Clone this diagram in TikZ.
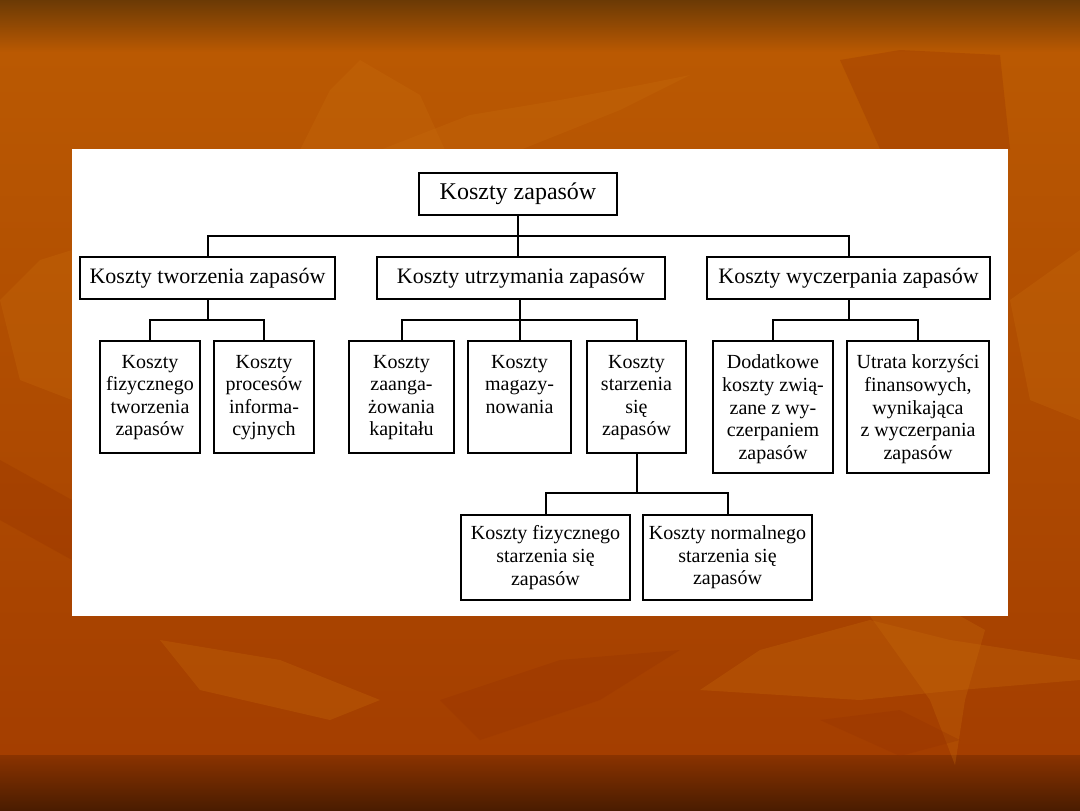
\documentclass[tikz,border=0pt]{standalone}
\usepackage{fontspec}
\setmainfont{Liberation Serif}
\definecolor{bgtop}{RGB}{107,58,5}
\definecolor{bgor}{RGB}{186,89,2}
\definecolor{bglow}{RGB}{164,62,0}
\definecolor{bgb1}{RGB}{138,51,0}
\definecolor{bgb2}{RGB}{74,28,0}
\definecolor{leafL}{RGB}{200,108,12}
\definecolor{leafD}{RGB}{150,50,0}
\tikzset{
  box/.style={draw, line width=1.1pt, fill=white, inner sep=0pt, align=center},
  conn/.style={line width=1pt},
  leafl/.style={fill=leafL, opacity=0.3},
  leafd/.style={fill=leafD, opacity=0.3}
}
\newcommand\tb[3]{\parbox[c][#1][t]{#2}{\centering\fontsize{10}{11.3}\selectfont #3}}
\begin{document}
\begin{tikzpicture}[x=0.5pt,y=-0.5pt]
\useasboundingbox (0,0) rectangle (1080,810);
% background
\shade[top color=bgtop, bottom color=bgor] (0,0) rectangle (1080,52);
\shade[top color=bgor, bottom color=bglow] (0,52) rectangle (1080,756);
\shade[top color=bgb1, bottom color=bgb2] (0,755) rectangle (1080,810);
% leaves
\fill[leafl] (300,150) -- (330,90) -- (360,60) -- (420,95) -- (445,150) -- cycle;
\fill[leafl] (380,150) -- (470,115) -- (560,100) -- (640,85) -- (690,75) -- (620,110) -- (520,150) -- cycle;
\fill[leafd] (840,60) -- (900,50) -- (1000,55) -- (1010,149) -- (880,149) -- cycle;
\fill[leafl] (0,300) -- (40,260) -- (72,250) -- (72,400) -- (20,380) -- cycle;
\fill[leafd] (0,460) -- (72,500) -- (72,560) -- (0,520) -- cycle;
\fill[leafl] (700,690) -- (760,650) -- (870,620) -- (950,640) -- (1080,660) -- (1080,680) -- (960,690) -- (860,700) -- cycle;
\fill[leafl] (870,616) -- (930,700) -- (955,765) -- (965,700) -- (985,630) -- (960,616) -- cycle;
\fill[leafd] (820,720) -- (900,710) -- (960,740) -- (900,756) -- cycle;
\fill[leafl] (160,640) -- (280,660) -- (380,700) -- (330,720) -- (200,690) -- cycle;
\fill[leafd] (440,700) -- (560,660) -- (680,650) -- (600,700) -- (480,740) -- cycle;
\fill[leafl] (1010,300) -- (1080,250) -- (1080,420) -- (1030,400) -- cycle;
% white panel
\fill[white] (72,149) rectangle (1008,616);
% level 1
\node[box, minimum width=99pt, minimum height=21pt, font=\fontsize{12}{14}\selectfont] (top) at (518,194) {Koszty zapasów};
% level 2
\node[box, minimum width=127.5pt, minimum height=21pt, font=\fontsize{11}{13}\selectfont] (A) at (207.5,278) {Koszty tworzenia zapasów};
\node[box, minimum width=144pt, minimum height=21pt, font=\fontsize{11}{13}\selectfont] (B) at (521,278) {Koszty utrzymania zapasów};
\node[box, minimum width=141.5pt, minimum height=21pt, font=\fontsize{11}{13}\selectfont] (C) at (848.5,278) {Koszty wyczerpania zapasów};
% level 3
\node[box, minimum width=50pt, minimum height=56pt] (A1) at (150,397) {\tb{42pt}{48pt}{Koszty\\fizycznego\\tworzenia\\zapasów}};
\node[box, minimum width=50pt, minimum height=56pt] (A2) at (264,397) {\tb{42pt}{48pt}{Koszty\\procesów\\informa-\\cyjnych}};
\node[box, minimum width=52.5pt, minimum height=56pt] (B1) at (401.5,397) {\tb{42pt}{50pt}{Koszty\\zaanga-\\żowania\\kapitału}};
\node[box, minimum width=51.5pt, minimum height=56pt] (B2) at (519.5,397) {\tb{42pt}{50pt}{Koszty\\magazy-\\nowania}};
\node[box, minimum width=49.5pt, minimum height=56pt] (B3) at (636.5,397) {\tb{42pt}{48pt}{Koszty\\starzenia\\się\\zapasów}};
\node[box, minimum width=60pt, minimum height=66pt] (C1) at (773,407) {\tb{52pt}{58pt}{Dodatkowe\\koszty zwią-\\zane z wy-\\czerpaniem\\zapasów}};
\node[box, minimum width=71pt, minimum height=66pt] (C2) at (918,407) {\tb{52pt}{69pt}{Utrata korzyści\\finansowych,\\wynikająca\\z wyczerpania\\zapasów}};
% level 4
\node[box, minimum width=84.5pt, minimum height=42.5pt, font=\fontsize{10}{11.3}\selectfont] (D1) at (545.5,557.5) {Koszty fizycznego\\starzenia się\\zapasów};
\node[box, minimum width=84.5pt, minimum height=42.5pt, font=\fontsize{10}{11.3}\selectfont] (D2) at (727.5,557.5) {Koszty normalnego\\starzenia się\\zapasów};
% junctions
\coordinate (j0) at (518,236);
\coordinate (ja) at (207.5,320);
\coordinate (jb) at (519.5,320);
\coordinate (jc) at (848.5,320);
\coordinate (jd) at (636.5,493);
% connectors
\draw[conn] (top.south) -- (top.south |- B.north);
\draw[conn] (A.north) |- (j0) -| (C.north);
\draw[conn] (A.south) -- (ja);
\draw[conn] (A1.north) |- (ja) -| (A2.north);
\draw[conn] (B2.north |- B.south) -- (B2.north);
\draw[conn] (B1.north) |- (jb) -| (B3.north);
\draw[conn] (C.south) -- (jc);
\draw[conn] (C1.north) |- (jc) -| (C2.north);
\draw[conn] (B3.south) -- (jd);
\draw[conn] (D1.north) |- (jd) -| (D2.north);
\end{tikzpicture}
\end{document}
